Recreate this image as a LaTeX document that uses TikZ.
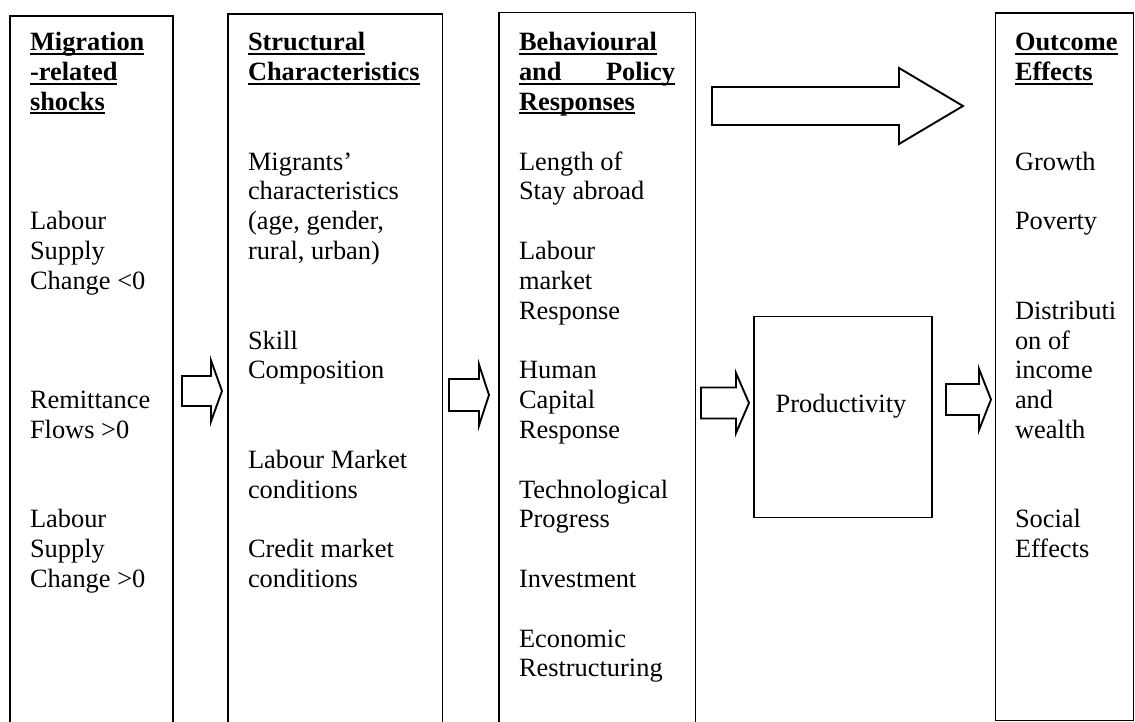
\documentclass[tikz,border=0pt]{standalone}
\usepackage{fontspec}
\setmainfont{Liberation Serif}

% bold heading line with a flat underline
\newcommand\headline[1]{\setbox0=\hbox{\bfseries #1}\rlap{\rule[-3.8pt]{\wd0}{1.9pt}}\box0}
% left-aligned lines with a fixed line pitch; baseline = first line
\newcommand\stack[1]{\vtop{\baselineskip=29.8pt\lineskiplimit=-100pt\halign{##\hfil\cr#1\crcr}}}
% outlined block arrow: shaft start, head base, tip, centre line, shaft half-height, head half-height
\newcommand\blockarrow[6]{%
  \draw[arrowline] (#1,#4-#5) -- (#2,#4-#5) -- (#2,#4-#6) -- (#3,#4)
    -- (#2,#4+#6) -- (#2,#4+#5) -- (#1,#4+#5) -- cycle;}

\tikzset{
  panel/.style={draw, line width=1.9pt, anchor=north west, outer sep=0pt, inner sep=0pt},
  txt/.style={anchor=base west, inner sep=0pt, outer sep=0pt,
              font=\fontsize{26.4}{29.8}\selectfont},
  arrowline/.style={draw, line width=1.9pt, line join=miter},
}

\begin{document}
\begin{tikzpicture}[x=1pt, y=-1pt]
\clip (0,0) rectangle (1135,722);

% column frames
\node[panel, minimum width=163.3pt, minimum height=740pt] (shockbox)  at (10,16)    {};
\node[panel, minimum width=214.5pt, minimum height=740pt] (structbox) at (228,14)   {};
\node[panel, minimum width=196.5pt, minimum height=740pt] (respbox)   at (499,12.5) {};
\node[panel, minimum width=138pt,   minimum height=707.5pt] (outbox)  at (995.5,13) {};
\node[panel, minimum width=178pt,   minimum height=201pt]  (prodbox)  at (754,316.5) {};

% migration-related shocks
\node[txt] (shockhead) at (30,51) {\stack{\headline{Migration}\cr\headline{-related}\cr\headline{shocks}}};
\node[txt] (labneg)  at (30,{51+6*29.8})  {\stack{Labour\cr Supply\cr Change <0}};
\node[txt] (remit)   at (30,{51+12*29.8}) {\stack{Remittance\cr Flows >0}};
\node[txt] (labpos)  at (30,{51+16*29.8}) {\stack{Labour\cr Supply\cr Change >0}};

% structural characteristics
\node[txt] (structhead) at (248,51) {\stack{\headline{Structural}\cr\headline{Characteristics}}};
\node[txt] (migchar) at (248,{51+4*29.8})  {\stack{Migrants’\cr characteristics\cr (age, gender,\cr rural, urban)}};
\node[txt] (skill)   at (248,{51+10*29.8}) {\stack{Skill\cr Composition}};
\node[txt] (labmkt)  at (248,{51+14*29.8}) {\stack{Labour Market\cr conditions}};
\node[txt] (credit)  at (248,{51+17*29.8}) {\stack{Credit market\cr conditions}};

% behavioural and policy responses
\node[txt] (resphead) at (519,51) {\stack{\headline{Behavioural}\cr\headline{\hbox to 156pt{and\hfil Policy}}\cr\headline{Responses}}};
\node[txt] (stay)    at (519,{51+4*29.8})  {\stack{Length of\cr Stay abroad}};
\node[txt] (labresp) at (519,{51+7*29.8})  {\stack{Labour\cr market\cr Response}};
\node[txt] (humcap)  at (519,{51+11*29.8}) {\stack{Human\cr Capital\cr Response}};
\node[txt] (tech)    at (519,{51+15*29.8}) {\stack{Technological\cr Progress}};
\node[txt] (invest)  at (519,{51+18*29.8}) {\stack{Investment}};
\node[txt] (restr)   at (519,{51+20*29.8}) {\stack{Economic\cr Restructuring}};

% productivity
\node[txt, anchor=base] (prodtext) at (841,412) {Productivity};

% outcome effects
\node[txt] (outhead) at (1015,51) {\stack{\headline{Outcome}\cr\headline{Effects}}};
\node[txt] (growth)  at (1015,{51+4*29.8})  {\stack{Growth}};
\node[txt] (poverty) at (1015,{51+6*29.8})  {\stack{Poverty}};
\node[txt] (distrib) at (1015,{51+9*29.8})  {\stack{Distributi\cr on of\cr income\cr and\cr wealth}};
\node[txt] (social)  at (1015,{51+16*29.8}) {\stack{Social\cr Effects}};

% block arrows between the columns
\blockarrow{182}{211}{222}{391}{15}{30.5}
\blockarrow{449}{479}{489}{395}{16}{30.5}
\blockarrow{701}{736}{749}{403}{15.5}{30}
\blockarrow{946}{979}{991}{399.5}{15.5}{30.5}
% wide arrow straight to the outcomes
\blockarrow{712}{899}{963}{106}{19}{38}
\end{tikzpicture}
\end{document}
